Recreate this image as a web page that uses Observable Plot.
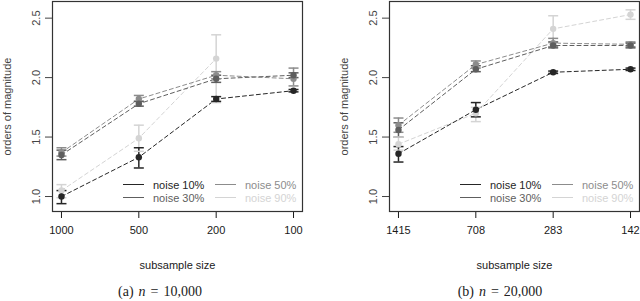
<!DOCTYPE html>
<html>
<head>
<meta charset="utf-8">
<script src="https://cdn.jsdelivr.net/npm/d3@7"></script>
<script src="https://cdn.jsdelivr.net/npm/@observablehq/plot@0.6"></script>
<style>
  html, body { margin: 0; padding: 0; background: #fff; }
  #root { position: relative; width: 640px; height: 301px; overflow: hidden; font-family: "Liberation Sans", Arial, sans-serif; }
  .panel { position: absolute; top: 0; }
  .caption { position: absolute; top: 284px; font-family: "Liberation Serif", "DejaVu Serif", serif; font-size: 14px; word-spacing: 1.5px; transform: translateX(-50%); white-space: nowrap; color: #222; }
  .lg-line { position: absolute; width: 21px; height: 0; border-top: 1.3px solid; }
  .lg-text { position: absolute; font-size: 11px; line-height: 13px; white-space: nowrap; transform: translateY(-50%); }
</style>
</head>
<body>
<div id="root"></div>
<script>
// ---- data ----
const noise = ["noise 10%", "noise 30%", "noise 50%", "noise 90%"];
const colors = ["#262626", "#5e5e5e", "#8c8c8c", "#d4d4d4"];
const yTicks = [1.0, 1.5, 2.0, 2.5];

// panel (a) n = 10,000
const sizesA = ["1000", "500", "200", "100"];
const a10mean = [1.00, 1.33, 1.82, 1.89], a10lo = [0.94, 1.24, 1.80, 1.88], a10hi = [1.05, 1.41, 1.84, 1.90];
const a30mean = [1.35, 1.78, 1.99, 2.02], a30lo = [1.31, 1.76, 1.96, 2.00], a30hi = [1.39, 1.80, 2.02, 2.04];
const a50mean = [1.37, 1.82, 2.02, 1.99], a50lo = [1.34, 1.80, 1.99, 1.93], a50hi = [1.41, 1.85, 2.05, 2.08];
const a90mean = [1.05, 1.49, 2.16, null], a90lo = [0.99, 1.38, 1.79, null], a90hi = [1.10, 1.60, 2.36, null];

// panel (b) n = 20,000
const sizesB = ["1415", "708", "283", "142"];
const b10mean = [1.36, 1.73, 2.045, 2.07], b10lo = [1.29, 1.67, 2.035, 2.06], b10hi = [1.42, 1.79, 2.055, 2.08];
const b30mean = [1.56, 2.07, 2.27, 2.27], b30lo = [1.50, 2.05, 2.25, 2.25], b30hi = [1.62, 2.10, 2.30, 2.29];
const b50mean = [1.60, 2.11, 2.29, 2.28], b50lo = [1.54, 2.08, 2.26, 2.26], b50hi = [1.66, 2.14, 2.33, 2.30];
const b90mean = [1.44, 1.70, 2.41, 2.53], b90lo = [1.39, 1.63, 2.29, 2.49], b90hi = [1.50, 1.75, 2.52, 2.57];

// ---- build ----
const capSymbol = { draw(ctx) { ctx.moveTo(-5, 0); ctx.lineTo(5, 0); } };

function rowsOf(series) {
  const rows = [];
  // draw lightest first so darker series end on top
  for (let k = series.length - 1; k >= 0; k--) {
    const [m, lo, hi] = series[k];
    m.forEach((v, i) => rows.push({ series: noise[k], i, mean: v, lo: lo[i], hi: hi[i] }));
  }
  return rows;
}

function panel(sizes, series, left, marginLeft, marginRight) {
  const rows = rowsOf(series);
  const errRows = rows.filter(d => d.lo != null);
  const chart = Plot.plot({
    width: 320, height: 272,
    marginLeft, marginRight, marginTop: 1, marginBottom: 61,
    x: { domain: [-0.116, 3.116], axis: null },
    y: { domain: [0.874, 2.64], axis: null },
    color: { domain: noise, range: colors },
    style: { fontFamily: "Liberation Sans, Arial, sans-serif", fontSize: "11px", background: "transparent", overflow: "visible" },
    marks: [
      Plot.axisX({ ticks: [0, 1, 2, 3], tickFormat: i => sizes[i], tickSize: 7, tickPadding: 8, fontSize: 11, color: "#1a1a1a",
                   label: "subsample size", labelAnchor: "center", labelOffset: 57, labelArrow: "none" }),
      Plot.axisY({ ticks: yTicks, tickFormat: d3.format(".1f"), tickSize: 7, tickPadding: 6, tickRotate: -90, color: "#444",
                   label: "orders of magnitude", labelAnchor: "center", labelOffset: 49, labelArrow: "none" }),
      Plot.line(rows, { x: "i", y: "mean", z: "series", stroke: "series", strokeDasharray: "4,3", strokeWidth: 1 }),
      Plot.ruleX(errRows, { x: "i", y1: "lo", y2: "hi", stroke: "series", strokeWidth: 1.5 }),
      Plot.dot(errRows, { x: "i", y: "lo", symbol: capSymbol, stroke: "series", strokeWidth: 1.5, r: 3 }),
      Plot.dot(errRows, { x: "i", y: "hi", symbol: capSymbol, stroke: "series", strokeWidth: 1.5, r: 3 }),
      Plot.dot(rows, { x: "i", y: "mean", fill: "series", r: 3.2 }),
      Plot.frame({ stroke: "#333", strokeWidth: 1.2 })
    ]
  });
  chart.classList.add("panel");
  chart.style.left = left + "px";
  return chart;
}

function legend(root, x0) {
  // two columns: [10%, 30%] then [50%, 90%]
  const cols = [[0, 1], [2, 3]];
  const rowY = [185, 198];
  cols.forEach((col, c) => {
    col.forEach((k, r) => {
      const ln = document.createElement("div");
      ln.className = "lg-line";
      ln.style.left = (x0 + c * 92) + "px";
      ln.style.top = (rowY[r] - 0.6) + "px";
      ln.style.borderColor = colors[k];
      root.appendChild(ln);
      const tx = document.createElement("div");
      tx.className = "lg-text";
      tx.style.left = (x0 + c * 92 + 30) + "px";
      tx.style.top = rowY[r] + "px";
      tx.style.color = colors[k];
      tx.textContent = noise[k];
      root.appendChild(tx);
    });
  });
}

function caption(text, x) {
  const d = document.createElement("div");
  d.className = "caption";
  d.style.left = x + "px";
  d.innerHTML = text;
  return d;
}

const root = document.getElementById("root");
root.appendChild(panel(sizesA, [[a10mean, a10lo, a10hi], [a30mean, a30lo, a30hi], [a50mean, a50lo, a50hi], [a90mean, a90lo, a90hi]], 0, 52, 18));
root.appendChild(panel(sizesB, [[b10mean, b10lo, b10hi], [b30mean, b30lo, b30hi], [b50mean, b50lo, b50hi], [b90mean, b90lo, b90hi]], 320, 69, 1));
legend(root, 123);
legend(root, 460);
root.appendChild(caption("(a) <i>n</i> = 10,000", 160));
root.appendChild(caption("(b) <i>n</i> = 20,000", 500));
</script>
</body>
</html>
